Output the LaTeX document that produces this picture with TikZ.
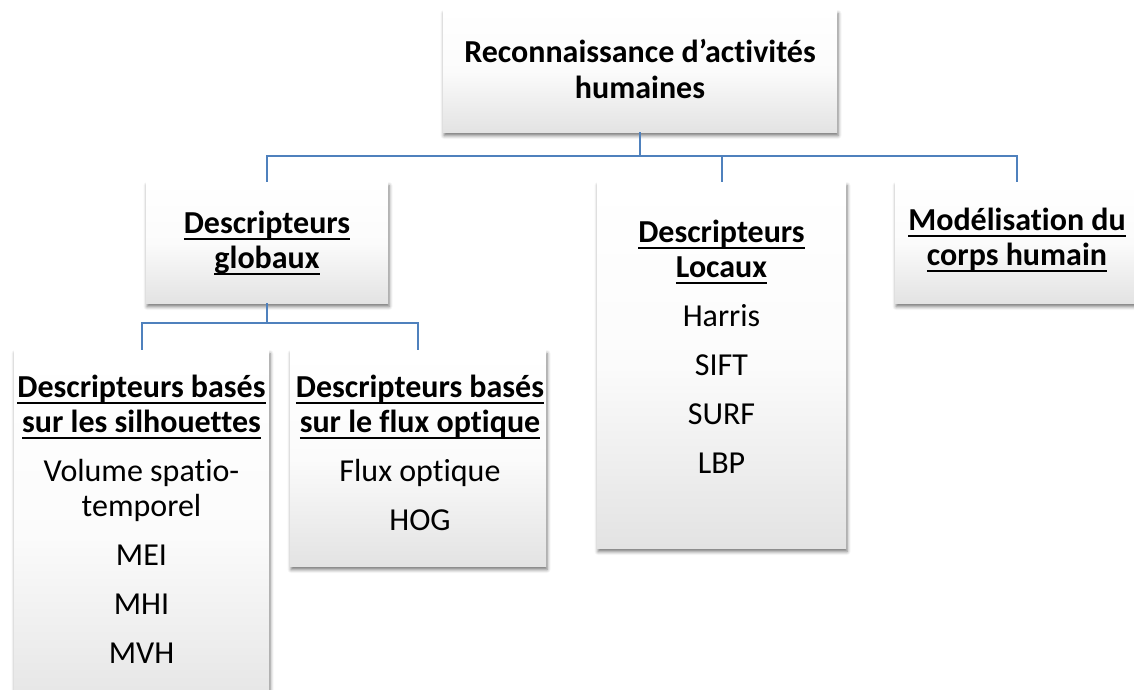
\documentclass[tikz,border=0pt]{standalone}
\usepackage{fontspec}
\setmainfont[Ligatures=NoCommon]{Carlito}
\usetikzlibrary{shadows.blur}
\definecolor{linkblue}{HTML}{4F81BD}
% bold heading text with a word-processor style underline
\newcommand{\hd}[1]{\setbox0\hbox{\bfseries #1}\rlap{\rule[-7pt]{\wd0}{1.9pt}}\box0}
\newcommand{\fl}{\rule{0pt}{30pt}}
\tikzset{
  card/.style={rectangle, inner sep=0pt, top color=white, bottom color=black!11,
    middle color=black!1.5,
    blur shadow={shadow xshift=1pt, shadow yshift=-3.5pt, shadow blur radius=3.5pt, shadow opacity=55}},
  cardtext/.style={inner sep=0pt, align=center, anchor=north,
    font=\fontsize{32}{35}\selectfont},
  wire/.style={draw=linkblue, line width=2pt},
}
\begin{document}
\begin{tikzpicture}[x=1pt, y=-1pt]
\useasboundingbox (0,0) rectangle (1134,689);
\clip (0,0) rectangle (1134,689);

% boxes
\node[card, minimum width=394pt, minimum height=122pt] (root) at (640,71) {};
\node[card, minimum width=242pt, minimum height=121pt] (glob) at (267,242.5) {};
\node[card, minimum width=249pt, minimum height=366pt] (loc) at (721.5,365) {};
\node[card, minimum width=244pt, minimum height=121pt] (model) at (1017,242.5) {};
\node[card, minimum width=255pt, minimum height=370pt] (silh) at (141.5,535) {};
\node[card, minimum width=256pt, minimum height=216pt] (flux) at (418,458) {};

% connectors
\coordinate (busA) at (0,156);
\coordinate (busB) at (0,323);
\draw[wire] (root.south) -- (root.south |- busA) -| (glob.north);
\draw[wire] (root.south |- busA) -| (loc.north);
\draw[wire] (root.south |- busA) -| (model.north);
\draw[wire] (glob.south) -- (glob.south |- busB) -| (silh.north);
\draw[wire] (glob.south |- busB) -| (flux.north);

% texts
\node[cardtext, font=\fontsize{32}{36}\selectfont\bfseries] (rootT) at (640,32)
  {\fl Reconnaissance d’activités\\humaines};
\node[cardtext] (globT) at (267,203) {\fl\hd{Descripteurs}\\\hd{globaux}};
\node[cardtext] (modelT) at (1017,200) {\fl\hd{Modélisation du}\\\hd{corps humain}};
\node[cardtext] (locT) at (721.5,212)
  {\fl\hd{Descripteurs}\\\hd{Locaux}\\[14pt]Harris\\[14pt]SIFT\\[14pt]SURF\\[14pt]LBP};
\node[cardtext] (silhT) at (141.5,367)
  {\fl\hd{Descripteurs basés}\\\hd{sur les silhouettes}\\[14pt]Volume spatio-\\temporel\\[14pt]MEI\\[14pt]MHI\\[14pt]MVH};
\node[cardtext] (fluxT) at (420,367)
  {\fl\hd{Descripteurs basés}\\\hd{sur le flux optique}\\[14pt]Flux optique\\[14pt]HOG};
\end{tikzpicture}
\end{document}
